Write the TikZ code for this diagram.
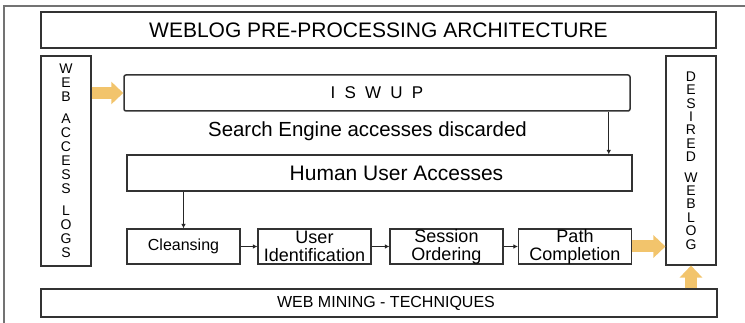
\documentclass[tikz,border=0pt]{standalone}
\usepackage{fontspec}
\setmainfont{Liberation Sans}
\usetikzlibrary{arrows.meta,calc}
\definecolor{fatorange}{RGB}{242,196,108}
\tikzset{
  box/.style={draw=black!80, line width=1.1pt, inner sep=0pt, align=center},
  stepbox/.style={box, minimum width=113pt, minimum height=35pt, font=\fontsize{18}{18}\selectfont},
  arr/.style={draw=black!85, line width=0.9pt, -{Latex[length=4.5pt,width=4.5pt]}},
  fat/.style={draw=fatorange, line width=12pt, -{Triangle[length=12pt,width=22pt]}}
}

\begin{document}
\begin{tikzpicture}[x=1pt,y=-1pt]
			%%%%% START %%%%%
			\useasboundingbox (0,0) rectangle (745,323);
			
			\draw[black!55, line width=1.2pt] (4,323) -- (4,6) -- (745,6);
			
			\node[box, minimum width=675pt, minimum height=36pt, font=\fontsize{21}{22}\selectfont] (title) at (378.5,30) {WEBLOG PRE-PROCESSING ARCHITECTURE};
			
			\node[box, minimum width=50pt, minimum height=210pt, font=\fontsize{14}{14}\selectfont] (logs) at (66,161)
				{W\\E\\B\\[8pt]A\\C\\C\\E\\S\\S\\[8pt]L\\O\\G\\S};
			\node[box, minimum width=50pt, minimum height=209pt, font=\fontsize{14}{13.4}\selectfont] (desired) at (691,160.5)
				{D\\E\\S\\I\\R\\E\\D\\[7pt]W\\E\\B\\L\\O\\G};
			
			\node[box, line width=1.5pt, rounded corners=2pt, minimum width=506pt, minimum height=36pt, font=\fontsize{17}{18}\selectfont] (iswup) at (377,93)
				{I\hspace{4.5pt} S\hspace{4.5pt} W\hspace{4.5pt} U\hspace{4.5pt} P};
			\node[font=\fontsize{20.4}{22}\selectfont] (discard) at (367.5,131) {Search Engine accesses discarded};
			\node[box, minimum width=505pt, minimum height=36pt, font=\fontsize{21}{22}\selectfont] (human) at (379.5,173) {\hspace*{34pt}Human User Accesses};
			
			\node[stepbox, font=\fontsize{16}{18}\selectfont] (clean) at (183.5,246.5) {Cleansing};
			\node[stepbox] (userid) at (314.5,246.5) {User\\Identification};
			\node[stepbox] (session) at (446.5,246.5) {Session\\Ordering};
			\node[stepbox] (path) at (575,246.5) {Path\\Completion};
			
			\node[box, minimum width=676pt, minimum height=28pt, font=\fontsize{16}{18}\selectfont] (mining) at (379,303) {\hspace*{14pt}WEB MINING - TECHNIQUES};
			
			\draw[arr] ([xshift=-22pt]iswup.south east) -- ([xshift=-22pt]iswup.south east |- human.north);
			\draw[arr] (human.south -| clean.north) -- (clean.north);
			\draw[arr] (clean) -- (userid);
			\draw[arr] (userid) -- (session);
			\draw[arr] (session) -- (path);
			
			\draw[fat] (logs.east |- iswup.west) -- (iswup.west);
			\draw[fat] (path.east) -- (path.east -| desired.west);
			\draw[fat] (mining.north -| desired.south) -- (desired.south);
			%%%%% END %%%%%
\end{tikzpicture}
\end{document}
